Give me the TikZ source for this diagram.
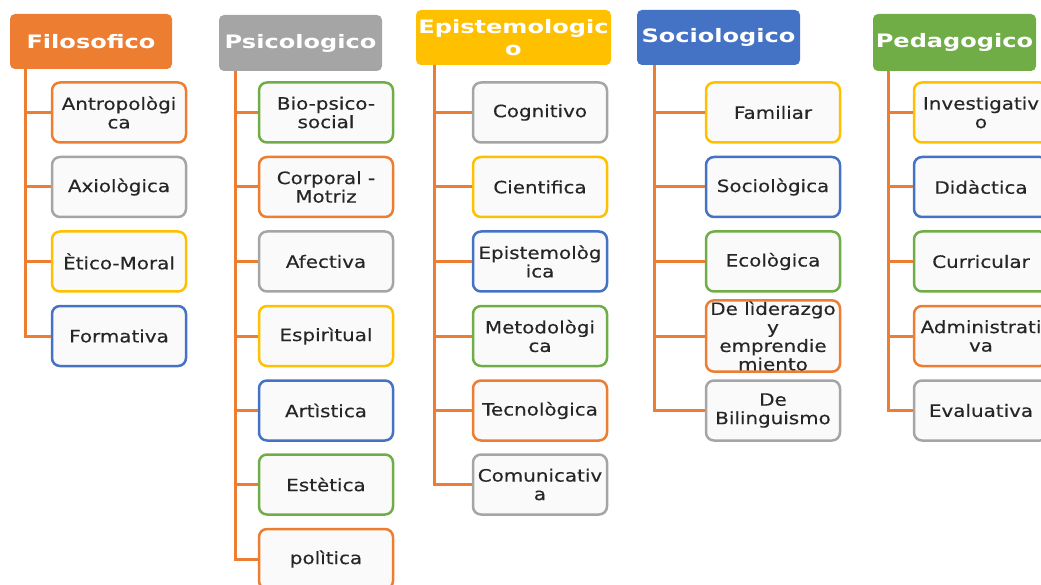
\documentclass[tikz,border=0pt]{standalone}
\usepackage{fontspec}
\newfontfamily\boxfont[FakeStretch=1.17,FakeBold=0.3]{DejaVu Sans}
\newfontfamily\headfont[FakeStretch=1.3,BoldFont={DejaVu Sans Bold}]{DejaVu Sans}
\definecolor{corange}{HTML}{ED7D31}
\definecolor{cgray}{HTML}{A5A5A5}
\definecolor{cgold}{HTML}{FFC000}
\definecolor{cblue}{HTML}{4472C4}
\definecolor{cgreen}{HTML}{70AD47}
\definecolor{boxfill}{HTML}{FAFAFA}
\definecolor{txt}{HTML}{262626}
\tikzset{
  child/.style={draw=#1, line width=2.5pt, rounded corners=8pt, fill=boxfill,
    minimum width=134pt, minimum height=60pt, inner sep=1pt, align=center,
    text=txt, font=\boxfont\fontsize{17}{18.5}\selectfont},
  head/.style={fill=#1, rounded corners=5pt, inner sep=1pt, align=center,
    text=white, font=\headfont\bfseries\fontsize{18.5}{21.5}\selectfont},
  conn/.style={draw=corange, line width=3pt}
}
\begin{document}
\begin{tikzpicture}[x=1pt,y=-1pt]
\useasboundingbox (0,0) rectangle (1041,585);
\clip (0,0) rectangle (1041,585);
% headers
\node[head=corange, minimum width=162pt, minimum height=55pt] (h1) at (91,41.5) {Filosofico};
\node[head=cgray, minimum width=163pt, minimum height=56pt] (h2) at (300.5,43) {Psicologico};
\node[head=cgold, minimum width=195pt, minimum height=55pt] (h3) at (513.5,37.5) {Epistemologic\\o};
\node[head=cblue, minimum width=163pt, minimum height=55pt] (h4) at (718.5,37.5) {Sociologico};
\node[head=cgreen, minimum width=163pt, minimum height=57pt] (h5) at (954.5,42.5) {Pedagogico};
% trunk tops
\coordinate (t1) at (25,69);
\coordinate (t2) at (235,71);
\coordinate (t3) at (434,65);
\coordinate (t4) at (654,65);
\coordinate (t5) at (888,71);
% column 1
\node[child=corange] (a1) at (119,112.5) {Antropològi\\ca};
\node[child=cgray]   (a2) at (119,187) {Axiològica};
\node[child=cgold]   (a3) at (119,261.5) {Ètico-Moral};
\node[child=cblue]   (a4) at (119,336) {Formativa};
% column 2
\node[child=cgreen]  (b1) at (326,112.5) {Bio-psico-\\social};
\node[child=corange] (b2) at (326,187) {Corporal -\\Motriz};
\node[child=cgray]   (b3) at (326,261.5) {Afectiva};
\node[child=cgold]   (b4) at (326,336) {Espirìtual};
\node[child=cblue]   (b5) at (326,410.5) {Artìstica};
\node[child=cgreen]  (b6) at (326,484.5) {Estètica};
\node[child=corange] (b7) at (326,559) {polìtica};
% column 3
\node[child=cgray]   (c1) at (540,112.5) {Cognitivo};
\node[child=cgold]   (c2) at (540,187) {Cientifica};
\node[child=cblue]   (c3) at (540,261.5) {Epistemològ\\ica};
\node[child=cgreen]  (c4) at (540,336) {Metodològi\\ca};
\node[child=corange] (c5) at (540,410.5) {Tecnològica};
\node[child=cgray]   (c6) at (540,484.5) {Comunicativ\\a};
% column 4
\node[child=cgold]   (d1) at (773,112.5) {Familiar};
\node[child=cblue]   (d2) at (773,187) {Sociològica};
\node[child=cgreen]  (d3) at (773,261.5) {Ecològica};
\node[child=corange] (d4) at (773,336) {De lìderazgo\\y\\emprendie\\miento};
\node[child=cgray]   (d5) at (773,410.5) {De\\Bilinguismo};
% column 5
\node[child=cgold]   (e1) at (981,112.5) {Investigativ\\o};
\node[child=cblue]   (e2) at (981,187) {Didàctica};
\node[child=cgreen]  (e3) at (981,261.5) {Curricular};
\node[child=corange] (e4) at (981,336) {Administrati\\va};
\node[child=cgray]   (e5) at (981,410.5) {Evaluativa};
% connectors
\draw[conn] (t1) |- (a4.west);
\foreach \n in {a1,a2,a3} \draw[conn] (t1 |- \n.west) -- (\n.west);
\draw[conn] (t2) |- (b7.west);
\foreach \n in {b1,b2,b3,b4,b5,b6} \draw[conn] (t2 |- \n.west) -- (\n.west);
\draw[conn] (t3) |- (c6.west);
\foreach \n in {c1,c2,c3,c4,c5} \draw[conn] (t3 |- \n.west) -- (\n.west);
\draw[conn] (t4) |- (d5.west);
\foreach \n in {d1,d2,d3,d4} \draw[conn] (t4 |- \n.west) -- (\n.west);
\draw[conn] (t5) |- (e5.west);
\foreach \n in {e1,e2,e3,e4} \draw[conn] (t5 |- \n.west) -- (\n.west);
\end{tikzpicture}
\end{document}
